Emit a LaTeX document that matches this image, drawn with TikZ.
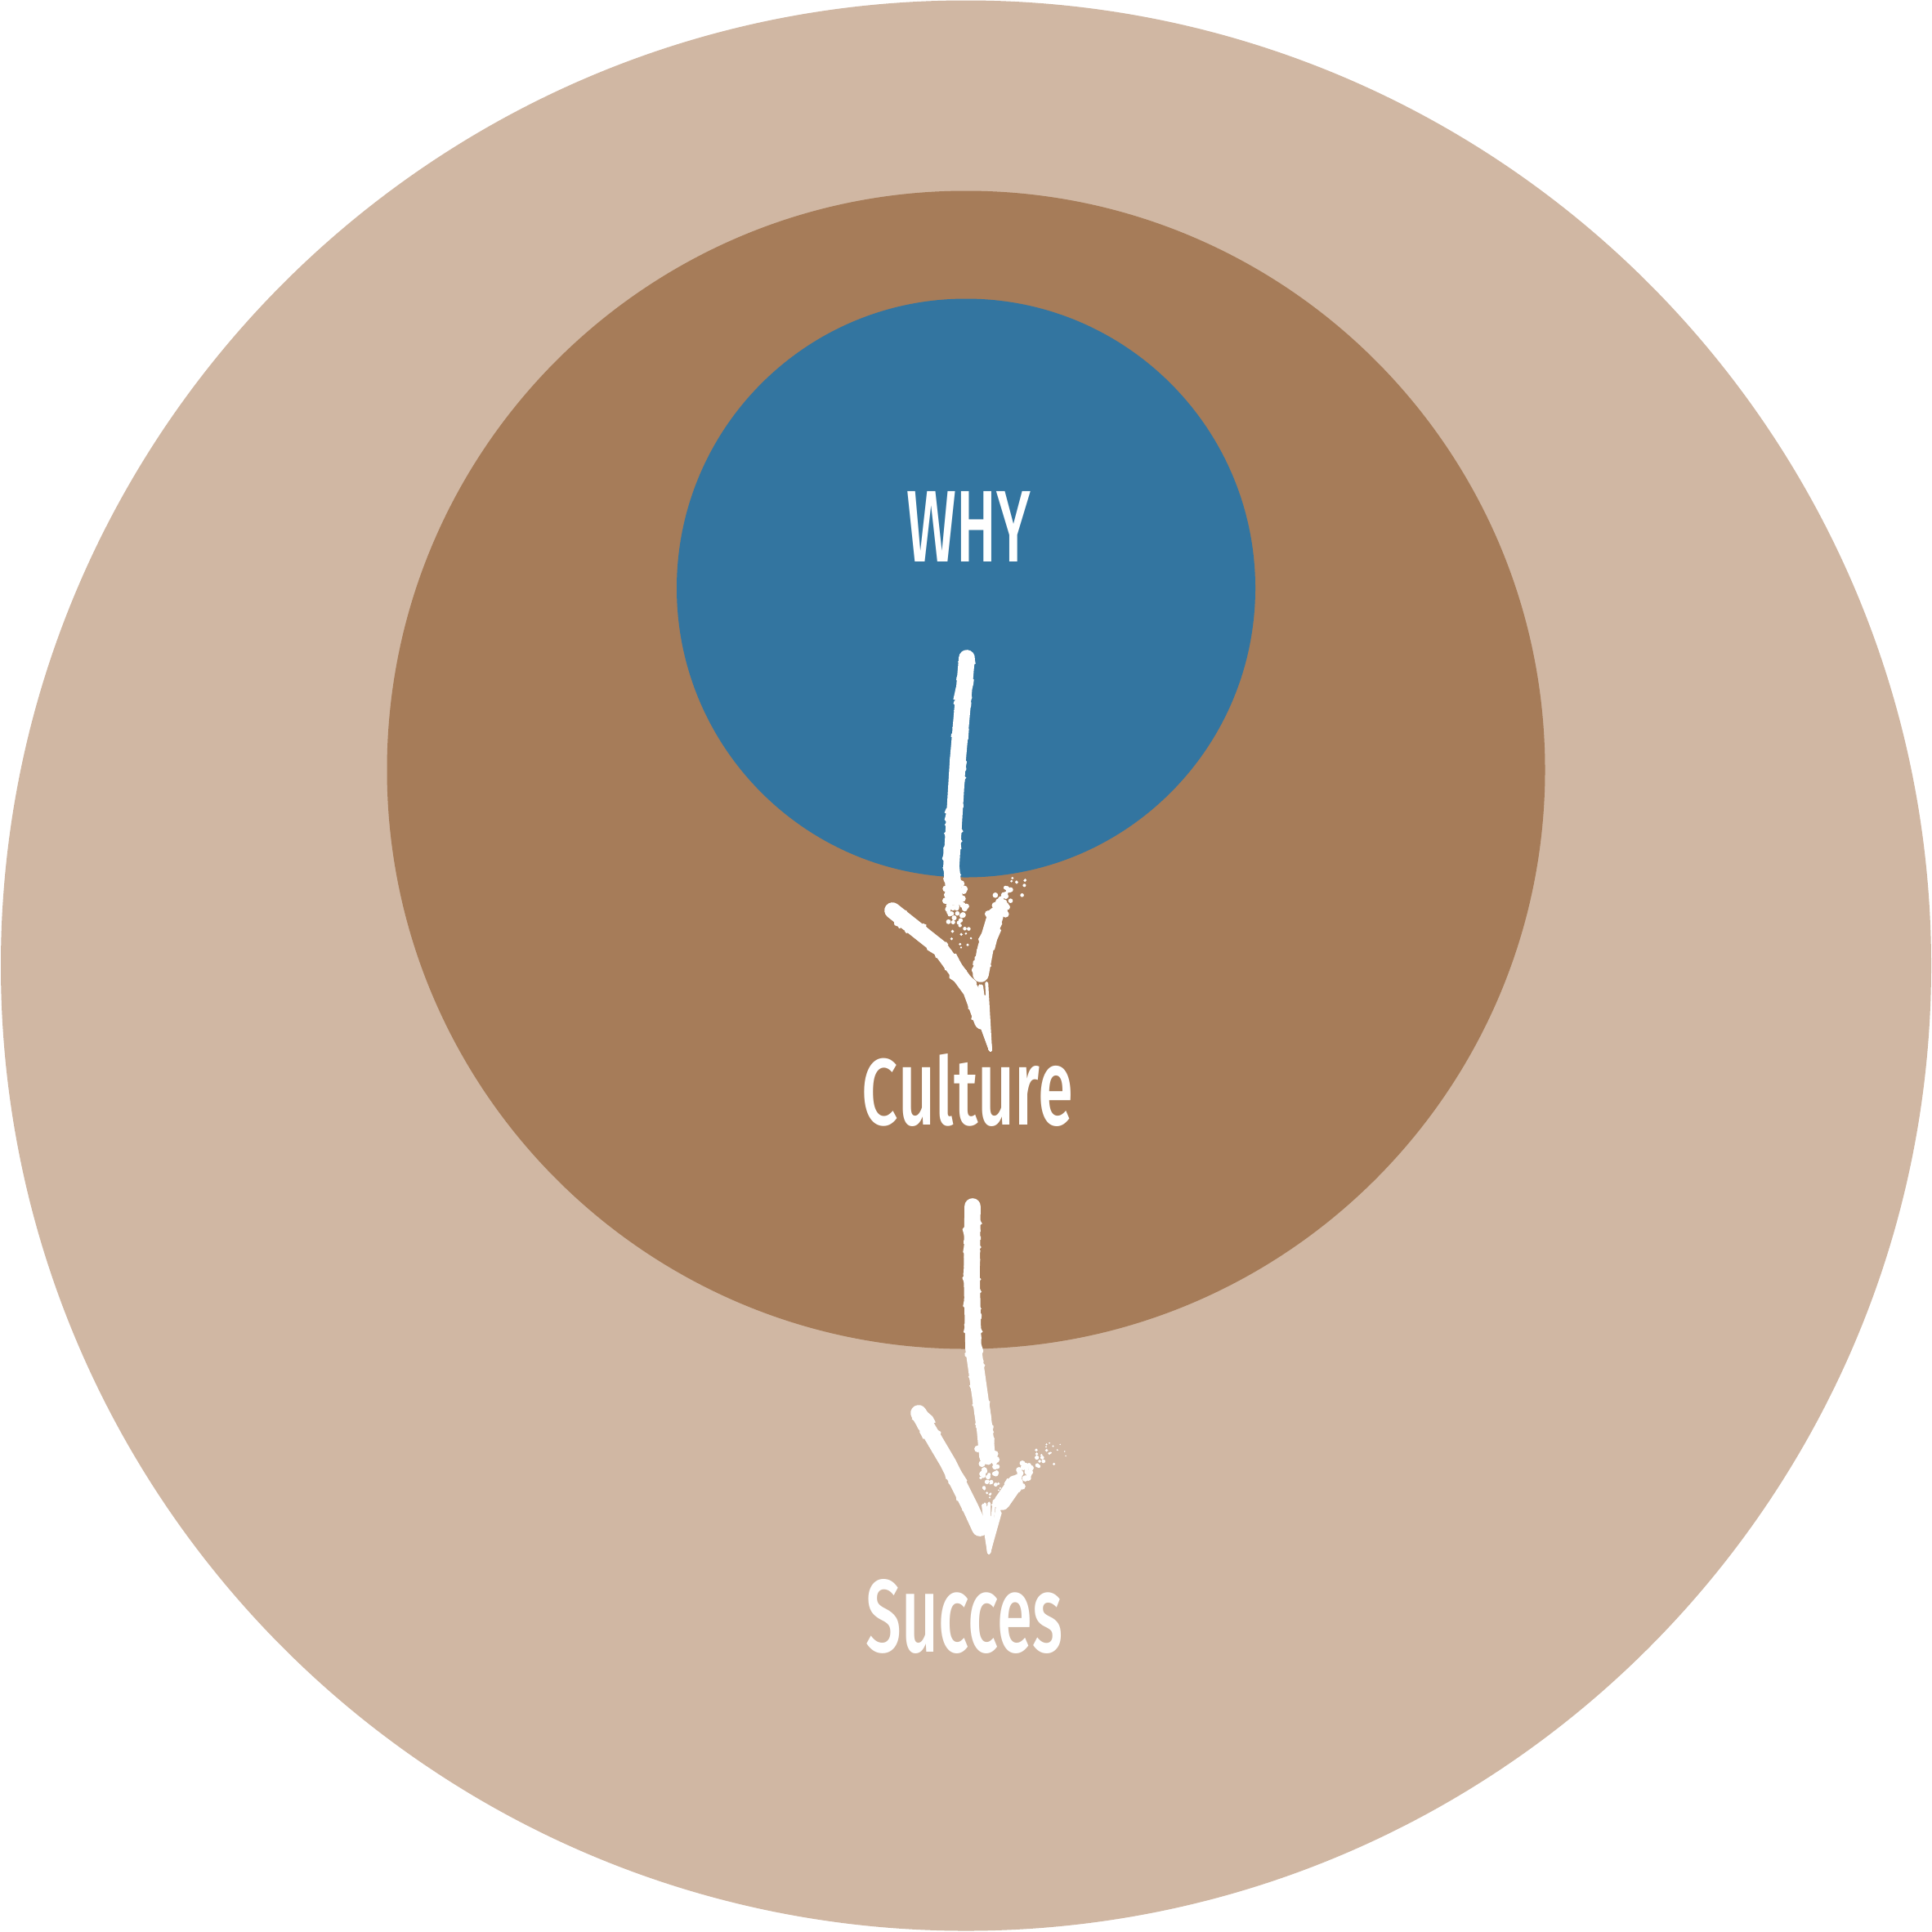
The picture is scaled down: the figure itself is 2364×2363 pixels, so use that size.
\documentclass[tikz,border=0pt]{standalone}
\usepackage{fontspec}
\usepackage{graphicx}
\setmainfont{Fira Sans}
\IfFontExistsTF{Fira Sans Medium}{\newfontfamily\labfont{Fira Sans Medium}}{\newfontfamily\labfont{Fira Sans}}
\usetikzlibrary{decorations.pathmorphing,calc}
\definecolor{outerc}{HTML}{D0B7A3}
\definecolor{midc}{HTML}{A67C59}
\definecolor{bluec}{HTML}{3375A0}
\newcommand\lcA[1]{\scalebox{1}[1.15]{#1}}
\newcommand\lcB[1]{\scalebox{1}[1.06]{#1}}
\newcommand\chalkpath[1]{\draw[chalkbase] #1; \draw[chalkrough] #1; \draw[chalkrough] #1; \draw[chalkrough] #1;}
\newcommand\speckle[4]{%
  \foreach \i in {1,...,#3}{%
    \pgfmathsetmacro\spT{rnd^1.4}%
    \pgfmathsetmacro\spX{(rnd-0.5)*#4}%
    \pgfmathsetmacro\spY{(rnd-0.5)*#4}%
    \pgfmathsetmacro\spR{(1-\spT)*3.5+0.8}%
    \fill[white] ($(#1)!\spT!(#2)$) ++(\spX,\spY) circle[radius=\spR];
  }}
\newcommand\streaks[3]{%
  \foreach \i in {1,...,#3}{%
    \pgfmathsetmacro\stX{(rnd-0.5)*24}%
    \pgfmathsetmacro\stY{(rnd-0.5)*24}%
    \draw[white, line width=1.1pt, line cap=round] (#1) -- ($(#2)+(\stX,\stY)$);
  }}
\begin{document}
\begin{tikzpicture}[x=0.01cm,y=-0.01cm,
  chalkbase/.style={white, line width=5.6pt, line cap=round, line join=round},
  chalkrough/.style={white, line width=1.2pt, line join=bevel, decorate, decoration={random steps, segment length=1.2pt, amplitude=3pt}},
  txt/.style={inner sep=0pt, text=white, font=\labfont}]
\pgfmathsetseed{11}
\fill[white] (0,0) rectangle (2364,2363);
\fill[outerc] (1182,1181.5) circle[radius=1181];
\fill[midc] (1182,942) circle[radius=708.5];
\fill[bluec] (1182,719.5) circle[radius=354];
% labels
\node[txt] (why) at (1185.5,644) {\resizebox{1.51cm}{0.86cm}{WHY}};
\node[txt] (culture) at (1184,1333.5) {\resizebox{2.58cm}{0.87cm}{C\lcA{u}lt\lcA{ure}}};
\node[txt] (succes) at (1180,1977.5) {\resizebox{2.40cm}{0.89cm}{S\lcB{ucces}}};
% arrow 1 (WHY -> Culture)
\coordinate (a1top) at (1183,805);
\coordinate (a1tip) at (1212,1285);
\chalkpath{(a1top) -- (1172,930) -- (1164,1060) -- (1168,1098)}
\speckle{1168,1092}{1178,1165}{50}{24}
\chalkpath{(1092,1114) -- (1150,1160) -- (1188,1212) -- (1202,1250)}
\speckle{1218,1116}{1256,1068}{45}{22}
\chalkpath{(1218,1120) -- (1206,1160) -- (1200,1192)}
\streaks{a1tip}{1196,1212}{12}
% arrow 2 (Culture -> Succes)
\coordinate (a2top) at (1190,1476);
\coordinate (a2tip) at (1210,1900);
\chalkpath{(a2top) -- (1189,1560) -- (1191,1650) -- (1205,1750) -- (1208,1782)}
\speckle{1207,1775}{1214,1835}{50}{24}
\chalkpath{(1124,1729) -- (1160,1790) -- (1188,1846) -- (1199,1870)}
\speckle{1242,1812}{1294,1772}{45}{22}
\chalkpath{(1242,1815) -- (1226,1838)}
\streaks{a2tip}{1214,1846}{12}
\end{tikzpicture}
\end{document}
